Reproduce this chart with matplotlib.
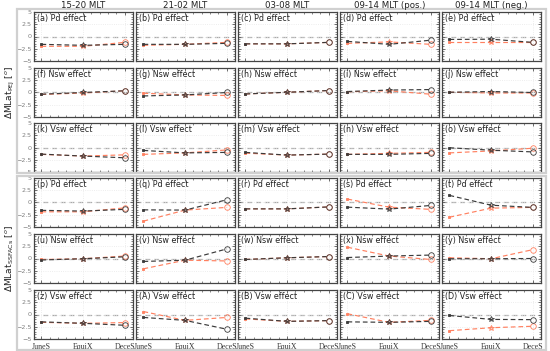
import matplotlib
matplotlib.use("Agg")
import matplotlib.pyplot as plt
from matplotlib.patches import Rectangle
from matplotlib.ticker import MultipleLocator

seasons = ["JuneS", "EquiX", "DeceS"]
col_titles = ["15-20 MLT", "21-02 MLT", "03-08 MLT", "09-14 MLT (pos.)", "09-14 MLT (neg.)"]
effects = ["Pd effect", "Nsw effect", "Vsw effect", "Pd effect", "Nsw effect", "Vsw effect"]
panel_letters = list("abcdefghijklmnopqrstuvwxyz") + list("ABCD")
ylabels = [r"$\Delta$MLat$_{\rm PEJ}$ [$^o$]", r"$\Delta$MLat$_{\rm SSFACs}$ [$^o$]"]

# values per panel (row-major): black series, orange series at JuneS, EquiX, DeceS
black = [
    [-1.6, -1.8, -1.6], [-1.6, -1.6, -1.4], [-1.5, -1.5, -1.2], [-1.0, -1.6, -0.75], [-0.6, -0.55, -1.2],
    [-0.35, 0.0, 0.35], [-0.7, -0.5, 0.0], [-0.3, 0.05, 0.4], [0.2, 0.5, 0.6], [0.05, 0.2, 0.0],
    [-1.35, -1.75, -2.1], [-0.6, -1.1, -1.0], [-1.0, -1.55, -1.35], [-1.4, -1.4, -1.2], [-0.05, -0.55, -0.9],
    [-1.6, -1.75, -1.4], [-1.5, -1.55, 0.55], [-1.3, -1.3, -0.9], [-0.95, -1.35, -0.6], [1.45, -0.55, -1.0],
    [-0.3, -0.05, 0.35], [-0.6, -0.35, 1.95], [-0.2, 0.15, 0.4], [0.2, 0.5, 0.7], [-0.05, -0.05, 0.0],
    [-1.5, -1.8, -2.2], [-0.6, -1.2, -3.0], [-0.75, -1.4, -1.25], [-1.5, -1.6, -1.4], [-0.2, -1.0, -1.05],
]
orange = [
    [-2.0, -2.0, -1.2], [-1.8, -1.6, -1.2], [-1.5, -1.5, -1.2], [-1.4, -1.1, -1.6], [-1.2, -1.2, -1.2],
    [-0.4, -0.1, 0.35], [-0.15, -0.5, -0.6], [-0.3, 0.05, 0.4], [0.15, 0.35, -0.35], [0.05, -0.1, -0.1],
    [-1.4, -1.75, -1.5], [-1.4, -1.1, -0.5], [-1.15, -1.55, -1.35], [-1.4, -1.2, -1.0], [-1.1, -0.7, -0.15],
    [-1.9, -1.9, -1.1], [-3.8, -1.55, -1.0], [-1.3, -1.3, -0.9], [0.7, -0.95, -1.4], [-3.0, -1.15, -1.0],
    [-0.2, -0.05, 0.5], [-2.1, -0.35, -0.5], [-0.2, 0.15, 0.4], [2.3, 0.5, -0.2], [0.15, -0.05, 1.8],
    [-1.6, -1.8, -1.65], [0.6, -1.2, -0.6], [-0.9, -1.4, -1.25], [0.15, -1.6, -1.2], [-3.3, -2.7, -2.4],
]

W, H = 550, 351
fig = plt.figure(figsize=(W / 100, H / 100), dpi=100)

col_left = [34, 136, 238, 340, 442]
row_top = [12, 68, 123, 178, 234, 290]
pw, ph = 99, 49

# grouping frames
for (y0, y1) in [(9, 173), (176, 350)]:
    fig.patches.append(Rectangle((17 / W, 1 - y1 / H), (546 - 17) / W, (y1 - y0) / H,
                                 transform=fig.transFigure, fill=False,
                                 edgecolor="#d0d0d0", linewidth=1.6, zorder=0))

c_black = "#3a3a3a"
c_orange = "#ff8060"
markers = ["s", "*", "o"]
msizes = [2.0, 4.0, 4.0]
x = [0, 1, 2]

for r in range(6):
    for c in range(5):
        i = r * 5 + c
        ax = fig.add_axes([col_left[c] / W, 1 - (row_top[r] + ph) / H, pw / W, ph / H])
        ax.set_xlim(-0.18, 2.2)
        ax.set_ylim(-5, 5)
        ax.axhline(0, color="#a8a8a8", linestyle=(0, (4, 3)), linewidth=0.9, zorder=1)
        ax.grid(True, color="#e8e8e8", linestyle=":", linewidth=0.6)
        for series, col in [(orange[i], c_orange), (black[i], c_black)]:
            ax.plot(x, series, color=col, linestyle=(0, (4, 2.5)), linewidth=0.85, zorder=2)
            for k in range(3):
                filled = k == 0
                ax.plot(x[k], series[k], marker=markers[k], markersize=msizes[k],
                        markerfacecolor=col if filled else "none",
                        markeredgecolor=col, markeredgewidth=0.6, linestyle="none", zorder=3)
        ax.xaxis.set_major_locator(MultipleLocator(1))
        ax.xaxis.set_minor_locator(MultipleLocator(0.2))
        ax.yaxis.set_major_locator(MultipleLocator(2.5))
        ax.yaxis.set_minor_locator(MultipleLocator(0.5))
        ax.tick_params(which="both", direction="in", top=True, right=True,
                       colors="#555555", labelcolor="#808080", labelsize=4.6, pad=1.5)
        ax.tick_params(which="major", length=2.5, width=0.6)
        ax.tick_params(which="minor", length=1.3, width=0.5)
        for s in ax.spines.values():
            s.set_color("#444444")
            s.set_linewidth(0.9)
        if c == 0:
            ax.set_yticks([-5, -2.5, 0, 2.5, 5])
            ax.set_yticklabels(["\u22125", "\u22122.5", "0", "2.5", "5"])
        else:
            ax.set_yticklabels([])
        ax.set_xticks(x)
        if r == 5:
            ax.set_xticklabels(seasons, family="Liberation Serif", fontsize=5.7, color="#333333")
            ax.tick_params(axis="x", pad=3)
        else:
            ax.set_xticklabels([])
        ax.text(0.03, 0.95, f"({panel_letters[i]}) {effects[r]}", transform=ax.transAxes,
                ha="left", va="top", fontsize=5.8, color="#222222")
        if r == 0:
            fig.text((col_left[c] + pw / 2) / W, 1 - 5 / H, col_titles[c], ha="center", va="center",
                     fontsize=6.2, color="#222222")

fig.text(10 / W, 1 - 92 / H, ylabels[0], rotation=90, ha="center", va="center", fontsize=6.5, color="#222222")
fig.text(10 / W, 1 - 258 / H, ylabels[1], rotation=90, ha="center", va="center", fontsize=6.5, color="#222222")

fig.savefig("out.png", dpi=100)
